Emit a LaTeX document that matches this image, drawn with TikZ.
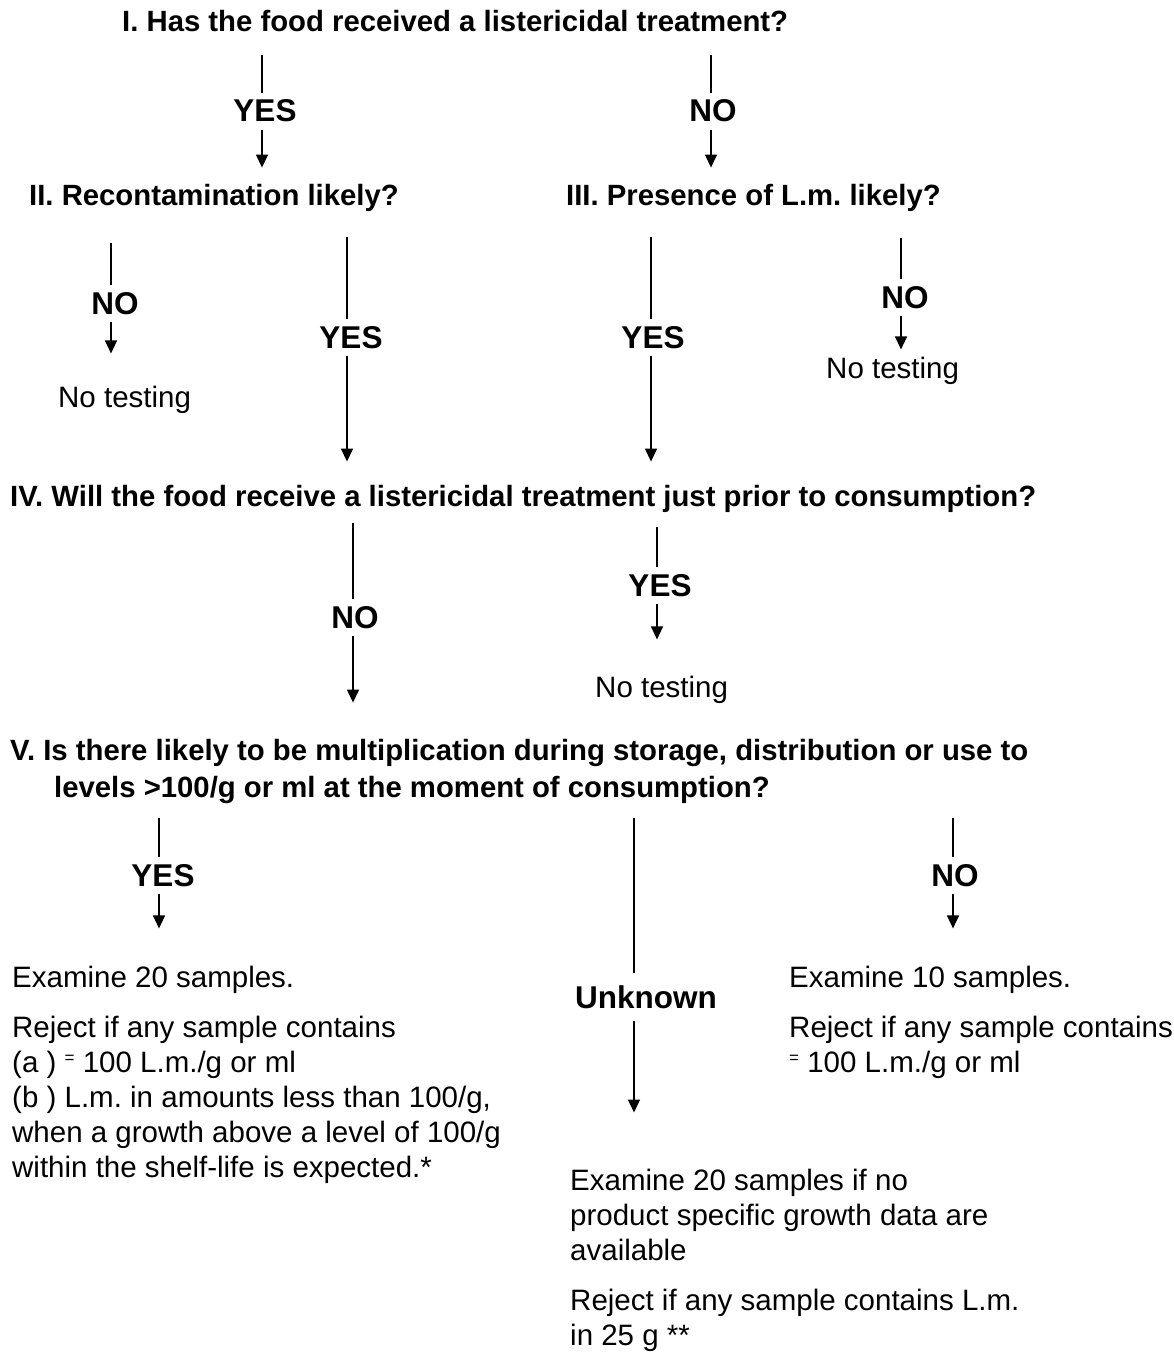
\documentclass[tikz,border=0pt]{standalone}
\usepackage{fontspec}
\setmainfont{Liberation Sans}
\usetikzlibrary{arrows.meta,calc}
\newcommand\qfont{\fontsize{29.3}{35}\selectfont\bfseries}
\newcommand\labfont{\fontsize{31.5}{36}\selectfont\bfseries}
\newcommand\txtfont{\fontsize{29.5}{35}\selectfont}
\newcommand\smeq{\raisebox{0.55ex}{\fontsize{17}{17}\selectfont =}}
\frenchspacing
\begin{document}
\begin{tikzpicture}[x=1pt,y=-1pt,
  qn/.style={font=\qfont, anchor=base west, inner sep=0pt},
  lab/.style={font=\labfont, anchor=base, inner xsep=0pt, inner ysep=7pt},
  txt/.style={font=\txtfont, anchor=base west, inner sep=0pt},
  par/.style={font=\txtfont, anchor=north west, inner sep=0pt, align=left},
  ln/.style={line width=1.3pt},
  arr/.style={line width=1.3pt, -{Triangle[width=12pt,length=13pt]}}]
\useasboundingbox (0,0) rectangle (1174,1362);
% questions
\node[qn] (q1) at (122,32) {I. Has the food received a listericidal treatment?};
\node[qn] (q2) at (29,205) {II. Recontamination likely?};
\node[qn] (q3) at (566,205) {III. Presence of L.m. likely?};
\node[qn] (q4) at (10,506) {IV. Will the food receive a listericidal treatment just prior to consumption?};
\node[qn] (q5) at (10,760) {V. Is there likely to be multiplication during storage, distribution or use to};
\node[qn] (q5b) at (54,797) {levels >100/g or ml at the moment of consumption?};
% labels
\node[lab] (yes1) at (265,122) {YES};
\node[lab] (no1) at (713,122) {NO};
\node[lab] (noA) at (115,314) {NO};
\node[lab] (yesB) at (351,348) {YES};
\node[lab] (yesC) at (653,348) {YES};
\node[lab] (noD) at (905,308) {NO};
\node[lab] (noE) at (355,628) {NO};
\node[lab] (yesF) at (660,596) {YES};
\node[lab] (yesG) at (163,886) {YES};
\node[lab, inner ysep=12pt] (unk) at (646,1008) {Unknown};
\node[lab] (noH) at (955,886) {NO};
% outcomes
\node[txt] (nt1) at (58,407) {No testing};
\node[txt] (nt2) at (826,378) {No testing};
\node[txt] (nt3) at (595,697) {No testing};
\node[txt] (ex1) at (12,987) {Examine 20 samples.};
\node[par] (rj1) at (12,1015.5) {Reject if any sample contains\\(a ) \smeq\ 100 L.m./g or ml\\(b ) L.m. in amounts less than 100/g,\\when a growth above a level of 100/g\\within the shelf-life is expected.*};
\node[txt] (ex2) at (789,987) {Examine 10 samples.};
\node[par] (rj2) at (789,1015.5) {Reject if any sample contains\\\smeq\ 100 L.m./g or ml};
\node[par] (ex3) at (570,1168.5) {Examine 20 samples if no\\product specific growth data are\\available};
\node[par] (rj3) at (570,1288.5) {Reject if any sample contains L.m.\\in 25 g **};
% line tops
\coordinate (t1) at (262,55);
\coordinate (t2) at (711,55);
\coordinate (tA) at (111,243);
\coordinate (tB) at (347,237);
\coordinate (tC) at (651,237);
\coordinate (tD) at (901,238);
\coordinate (tE) at (353,523);
\coordinate (tF) at (657,527);
\coordinate (tG) at (159,818);
\coordinate (tU) at (634,818);
\coordinate (tH) at (953,818);
% connectors
\draw[ln] (t1) -- (t1 |- yes1.north);
\draw[arr] (t1 |- yes1.south) -- ($(t1 |- q2.north)+(0,-16)$);
\draw[ln] (t2) -- (t2 |- no1.north);
\draw[arr] (t2 |- no1.south) -- ($(t2 |- q3.north)+(0,-16)$);
\draw[ln] (tA) -- (tA |- noA.north);
\draw[arr] (tA |- noA.south) -- ($(tA |- nt1.north)+(0,-32)$);
\draw[ln] (tB) -- (tB |- yesB.north);
\draw[arr] (tB |- yesB.south) -- ($(tB |- q4.north)+(0,-23)$);
\draw[ln] (tC) -- (tC |- yesC.north);
\draw[arr] (tC |- yesC.south) -- ($(tC |- q4.north)+(0,-23)$);
\draw[ln] (tD) -- (tD |- noD.north);
\draw[arr] (tD |- noD.south) -- ($(tD |- nt2.north)+(0,-7)$);
\draw[ln] (tE) -- (tE |- noE.north);
\draw[arr] (tE |- noE.south) -- ($(tE |- q5.north)+(0,-36)$);
\draw[ln] (tF) -- (tF |- yesF.north);
\draw[arr] (tF |- yesF.south) -- ($(tF |- nt3.north)+(0,-36)$);
\draw[ln] (tG) -- (tG |- yesG.north);
\draw[arr] (tG |- yesG.south) -- ($(tG |- ex1.north)+(0,-37)$);
\draw[ln] (tU) -- (tU |- unk.north);
\draw[arr] (tU |- unk.south) -- ($(tU |- ex3.north)+(0,-56)$);
\draw[ln] (tH) -- (tH |- noH.north);
\draw[arr] (tH |- noH.south) -- ($(tH |- ex2.north)+(0,-37)$);
\end{tikzpicture}
\end{document}
